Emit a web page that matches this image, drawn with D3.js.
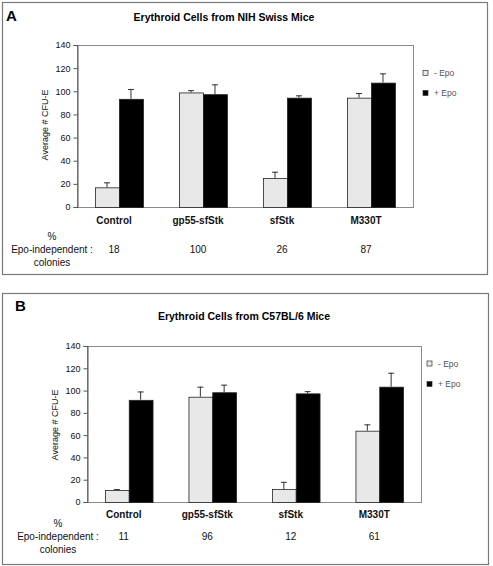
<!DOCTYPE html>
<html><head><meta charset="utf-8">
<script src="https://cdn.jsdelivr.net/npm/d3@7"></script>
<style>body{margin:0;background:#fff}svg{display:block}text{font-family:"Liberation Sans",Arial,sans-serif}</style>
</head><body>
<script>
const categories = ["Control", "gp55-sfStk", "sfStk", "M330T"];
const seriesNames = ["- Epo", "+ Epo"];
const yTicks = [0, 20, 40, 60, 80, 100, 120, 140];

// Panel A: NIH Swiss
const aMinusEpo = [17, 99, 25, 94.5];
const aMinusEpoErr = [4.3, 2, 5.5, 4];
const aPlusEpo = [93.5, 97.5, 94.5, 107.5];
const aPlusEpoErr = [8.5, 8.5, 2, 8];
const aPercent = ["18", "100", "26", "87"];

// Panel B: C57BL/6
const bMinusEpo = [10.7, 94.5, 11.6, 64];
const bMinusEpoErr = [0.9, 9, 6.5, 5.7];
const bPlusEpo = [91.7, 98.5, 97.5, 103.5];
const bPlusEpoErr = [7.5, 6.8, 2, 12.5];
const bPercent = ["11", "96", "12", "61"];

const svg = d3.select("body").append("svg").attr("width", 493).attr("height", 566);

function panel(cfg) {
  const g = svg.append("g");
  g.append("rect").attr("x", cfg.fx + 0.5).attr("y", cfg.fy + 0.5).attr("width", cfg.fw).attr("height", cfg.fh)
    .attr("fill", "#fff").attr("stroke", "#7a7a7a").attr("stroke-width", 1.2);
  g.append("text").attr("x", cfg.letterX).attr("y", cfg.letterY).attr("font-size", 15).attr("font-weight", "bold").text(cfg.letter);
  g.append("text").attr("x", cfg.titleX).attr("y", cfg.titleY).attr("text-anchor", "middle")
    .attr("font-size", 10.5).attr("font-weight", "bold").text(cfg.title);

  const x = d3.scaleBand().domain(categories).range([cfg.x0, cfg.x1]).paddingInner(0.43).paddingOuter(0.215);
  const xs = d3.scaleBand().domain(seriesNames).range([0, x.bandwidth()]);
  const y = d3.scaleLinear().domain([0, 140]).range([cfg.yZero, cfg.yTop]);

  g.append("rect").attr("x", cfg.x0 + 0.5).attr("y", cfg.yTop + 0.5).attr("width", cfg.x1 - cfg.x0).attr("height", cfg.yZero - cfg.yTop)
    .attr("fill", "none").attr("stroke", "#8a8a8a").attr("stroke-width", 1);

  const ax = g.append("g").attr("transform", `translate(${cfg.x0 + 0.5},0)`)
    .call(d3.axisLeft(y).tickValues(yTicks).tickSize(4).tickPadding(3).tickFormat(d3.format("d")));
  ax.select(".domain").attr("stroke", "#555");
  ax.selectAll(".tick line").attr("stroke", "#555");
  ax.selectAll("text").attr("font-size", 9).attr("font-family", "Liberation Sans, Arial, sans-serif").attr("fill", "#111");

  g.append("text").attr("transform", `translate(${cfg.yLabelX},${cfg.yLabelY}) rotate(-90)`)
    .attr("text-anchor", "middle").attr("font-size", 9).attr("fill", "#111").text("Average # CFU-E");

  const series = [
    { name: seriesNames[0], vals: cfg.minus, errs: cfg.minusErr, fill: "#e8e8e8" },
    { name: seriesNames[1], vals: cfg.plus, errs: cfg.plusErr, fill: "#000" }
  ];
  series.forEach(s => {
    const sg = g.append("g");
    categories.forEach((c, i) => {
      const bx = x(c) + xs(s.name);
      const v = s.vals[i], e = s.errs[i];
      const cx = bx + xs.bandwidth() / 2;
      sg.append("line").attr("x1", cx).attr("x2", cx).attr("y1", y(v)).attr("y2", y(v + e)).attr("stroke", "#333").attr("stroke-width", 1);
      sg.append("line").attr("x1", cx - 3).attr("x2", cx + 3).attr("y1", y(v + e) + 0.5).attr("y2", y(v + e) + 0.5).attr("stroke", "#333").attr("stroke-width", 1);
      sg.append("rect").attr("x", bx + 0.5).attr("y", y(v) + 0.5).attr("width", xs.bandwidth()).attr("height", y(0) - y(v))
        .attr("fill", s.fill).attr("stroke", "#222").attr("stroke-width", 0.8);
    });
  });
  series.forEach((s, i) => {
    const ly = cfg.legY + i * cfg.legStep;
    g.append("rect").attr("x", cfg.legX).attr("y", ly - 2.5).attr("width", 5).attr("height", 5)
      .attr("fill", s.fill).attr("stroke", "#333").attr("stroke-width", 0.7);
    g.append("text").attr("x", cfg.legX + 11).attr("y", ly + 3).attr("font-size", 8.5).attr("fill", "#555").text(s.name);
  });

  categories.forEach((c, i) => {
    g.append("text").attr("x", x(c) + x.bandwidth() / 2 - 5).attr("y", cfg.catY).attr("text-anchor", "middle")
      .attr("font-size", 10).attr("font-weight", "bold").attr("fill", "#111").text(c);
    g.append("text").attr("x", x(c) + x.bandwidth() / 2 - 5).attr("y", cfg.pctY).attr("text-anchor", "middle")
      .attr("font-size", 10).attr("fill", "#111").text(cfg.pct[i]);
  });
  g.append("text").attr("x", cfg.pctLabelX).attr("y", cfg.pctY - 13).attr("text-anchor", "middle").attr("font-size", 10).attr("fill", "#111").text("%");
  g.append("text").attr("x", cfg.pctLabelX).attr("y", cfg.pctY).attr("text-anchor", "middle").attr("font-size", 10).attr("fill", "#111").text("Epo-independent :");
  g.append("text").attr("x", cfg.pctLabelX).attr("y", cfg.pctY + 13).attr("text-anchor", "middle").attr("font-size", 10).attr("fill", "#111").text("colonies");
}

panel({
  fx: 2, fy: 2, fw: 485, fh: 272,
  letter: "A", letterX: 6, letterY: 21,
  title: "Erythroid Cells from NIH Swiss Mice", titleX: 224, titleY: 21,
  x0: 77, x1: 413, yTop: 45, yZero: 207,
  yLabelX: 48, yLabelY: 125,
  minus: aMinusEpo, minusErr: aMinusEpoErr, plus: aPlusEpo, plusErr: aPlusEpoErr,
  legX: 423, legY: 73, legStep: 20,
  catY: 224, pctY: 253, pct: aPercent, pctLabelX: 52
});

panel({
  fx: 2, fy: 293, fw: 486, fh: 271,
  letter: "B", letterX: 15, letterY: 311,
  title: "Erythroid Cells from C57BL/6 Mice", titleX: 244, titleY: 320,
  x0: 87, x1: 421, yTop: 346, yZero: 502,
  yLabelX: 58, yLabelY: 425,
  minus: bMinusEpo, minusErr: bMinusEpoErr, plus: bPlusEpo, plusErr: bPlusEpoErr,
  legX: 427, legY: 363.5, legStep: 20.5,
  catY: 518, pctY: 540, pct: bPercent, pctLabelX: 58
});
</script>
</body></html>
